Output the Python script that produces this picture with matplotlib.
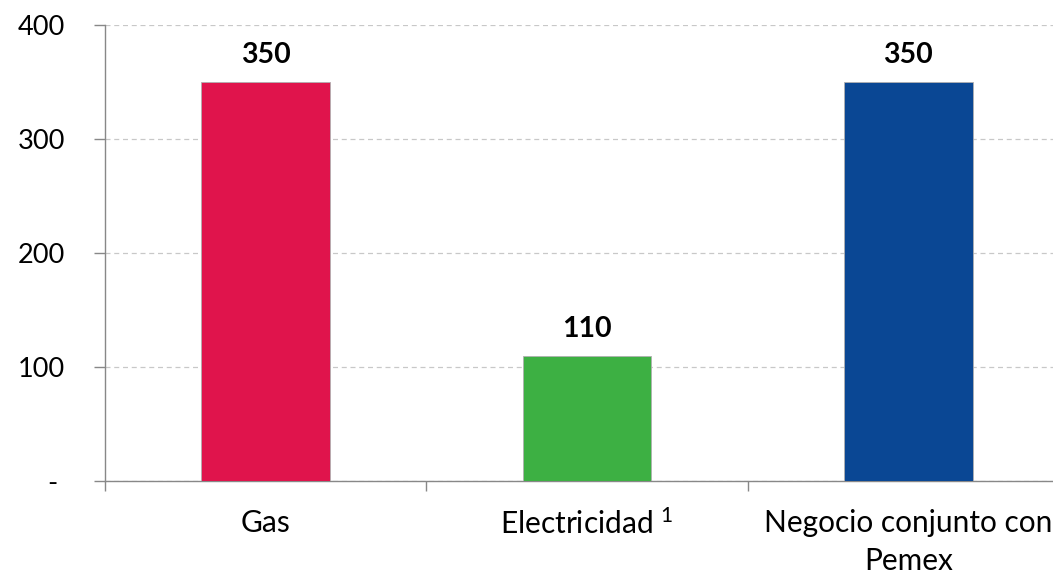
import matplotlib
matplotlib.use("Agg")
import matplotlib.pyplot as plt

categories = ["Gas", "Electricidad $^{1}$", "Negocio conjunto con\nPemex"]
values = [350, 110, 350]
colors = ["#E0144C", "#3DB043", "#0A4794"]
yticks = [0, 100, 200, 300, 400]
ytick_labels = ["-\u00a0", "100", "200", "300", "400"]

plt.rcParams["font.family"] = ["Lato", "DejaVu Sans"]
plt.rcParams["mathtext.default"] = "regular"

fig = plt.figure(figsize=(10.53, 5.74), dpi=100)
ax = fig.add_axes([105/1053, 93/574, 964/1053, 456/574])

x = list(range(len(categories)))
bars = ax.bar(x, values, width=0.4, color=colors, edgecolor="#B0B0B0", linewidth=0.6, zorder=3)
for xi, v in zip(x, values):
    ax.text(xi, v + 12, str(v), ha="center", va="bottom", fontsize=20.5, fontweight="bold", color="black")

ax.set_xlim(-0.5, 2.5)
ax.set_ylim(0, 400)
ax.set_yticks(yticks)
ax.set_yticklabels(ytick_labels, fontsize=19.5)
ax.tick_params(axis="y", length=8, width=1, color="#888888", pad=21)

ax.set_xticks([-0.5, 0.5, 1.5, 2.5])
ax.set_xticklabels([])
ax.tick_params(axis="x", which="major", length=7.5, width=1, color="#888888", direction="out")
ax.set_xticks(x, minor=True)
ax.set_xticklabels(categories, minor=True, fontsize=21.5, linespacing=1.45)
ax.tick_params(axis="x", which="minor", length=0, pad=20)

ax.yaxis.grid(True, linestyle=(0, (4, 3)), color="#C8C8C8", linewidth=0.9, zorder=0)
ax.set_axisbelow(True)
for s in ["top", "right"]:
    ax.spines[s].set_visible(False)
for s in ["left", "bottom"]:
    ax.spines[s].set_color("#888888")
    ax.spines[s].set_linewidth(1)

fig.savefig("out.png", dpi=100)
